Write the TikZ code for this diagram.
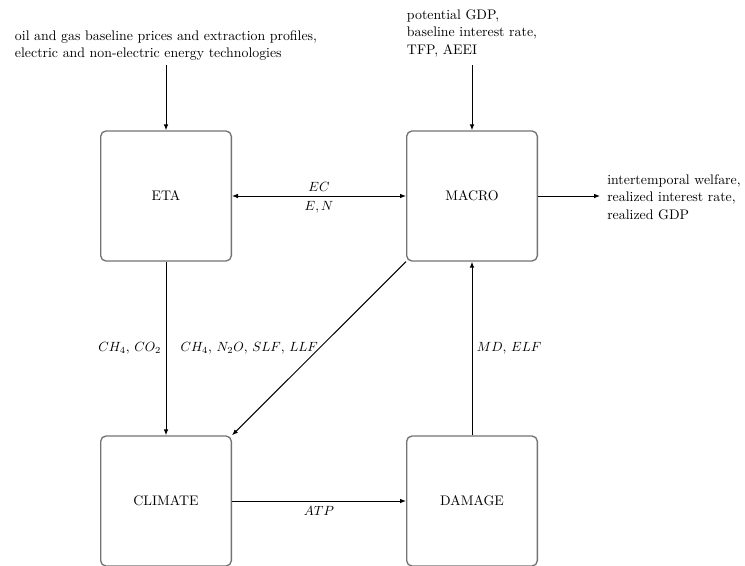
\documentclass[tikz,border=0pt]{standalone}
\usetikzlibrary{arrows.meta}
\begin{document}
\begin{tikzpicture}[x=0.75pt,y=-0.75pt,
  font=\fontsize{10.4}{13}\selectfont,
  box/.style={draw=black!55, line width=1pt, rounded corners=4pt, minimum width=98pt, minimum height=97.5pt, inner sep=0pt},
  conn/.style={line width=0.75pt, -{Latex[length=4.5pt,width=3.5pt]}},
  txt/.style={align=left, inner sep=0pt}]
\useasboundingbox (0,0) rectangle (745,565);
\node[box] (eta) at (166,196) {ETA};
\node[box] (macro) at (472,196) {MACRO};
\node[box] (climate) at (166,501) {CLIMATE};
\node[box] (damage) at (472,501) {DAMAGE};
\coordinate (inEta) at (166,65);
\coordinate (inMacro) at (472,65);
\coordinate (outMacro) at (600,196);
\node[txt, anchor=south] (tEta) at (166,61) {oil and gas baseline prices and extraction profiles,\\electric and non-electric energy technologies};
\node[txt, anchor=south] (tMacro) at (472,57) {potential GDP,\\baseline interest rate,\\TFP, AEEI};
\node[txt, anchor=west] (tOut) at (607,197) {intertemporal welfare,\\realized interest rate,\\realized GDP};
\draw[conn] (inEta) -- (eta.north);
\draw[conn] (inMacro) -- (macro.north);
\draw[conn] (macro.east) -- (outMacro);
\draw[conn, {Latex[length=4.5pt,width=3.5pt]}-{Latex[length=4.5pt,width=3.5pt]}] (eta.east) -- node[above]{$EC$} node[below]{$E,N$} (macro.west);
\draw[conn] (eta.south) -- node[left]{$CH_4$, $CO_2$} (climate.north);
\draw[conn] (macro.south west) -- node[left, inner sep=0.5pt]{$CH_4$, $N_2O$, $SLF$, $LLF$} (climate.north east);
\draw[conn] (damage.north) -- node[right]{$MD$, $ELF$} (macro.south);
\draw[conn] (climate.east) -- node[below]{$ATP$} (damage.west);
\end{tikzpicture}
\end{document}
